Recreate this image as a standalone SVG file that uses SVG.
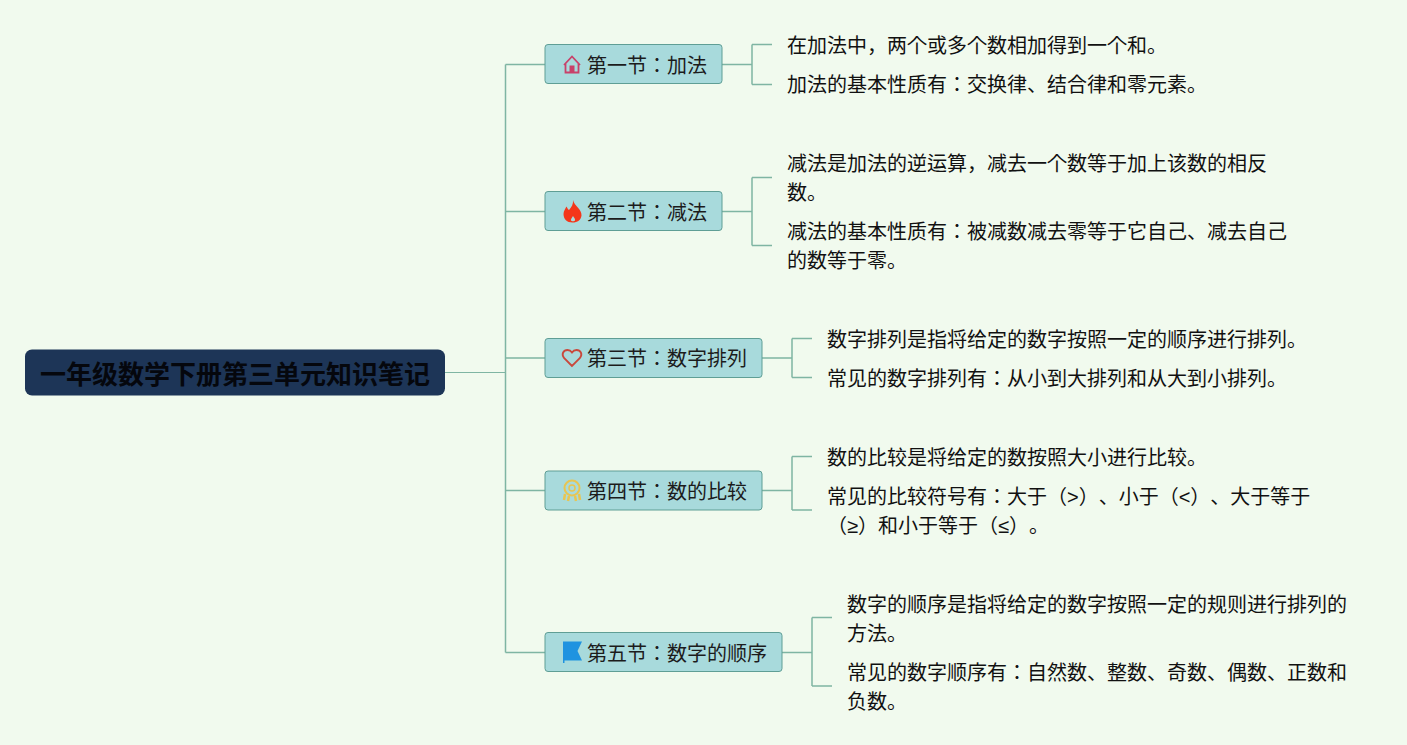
<svg xmlns="http://www.w3.org/2000/svg" width="1407" height="745" viewBox="0 0 1407 745">
<style>
text{font-family:"Liberation Sans","Noto Sans CJK JP","Noto Sans CJK SC",sans-serif;fill:#111;font-feature-settings:"chws" 0;text-spacing-trim:space-all}
.t{font-size:20px}
.n{font-size:20px;fill:#1c1c1c}
.root{font-size:26px;font-weight:700;fill:#05070d}
.box{fill:#a8dadc;stroke:#5f9e95;stroke-width:1}
.c{fill:none;stroke:#7fb5a3;stroke-width:1.5}
.l{fill:none;stroke:#7fb5a3;stroke-width:1}
</style>
<rect width="1407" height="745" fill="#f1faee"/>
<g id="connectors">
<path class="l" d="M445 372.500H505.500"/>
<path class="c" d="M505.500 64.500V652.500M505.500 64.500H545M505.500 211.500H545M505.500 358H545M505.500 490.500H545M505.500 652.500H545"/>
<path class="c" d="M722 64.500H752M752 44.500V84.500M752 44.500H772M752 84.500H772"/>
<path class="c" d="M722 211.500H752M752 177.500V245.500M752 177.500H772M752 245.500H772"/>
<path class="c" d="M762 358H792M792 338.500V377.500M792 338.500H812M792 377.500H812"/>
<path class="c" d="M762 490.500H792M792 456.500V510M792 456.500H812M792 510H812"/>
<path class="c" d="M782 652.500H812M812 617.500V686M812 617.500H832M812 686H832"/>
</g>
<g id="root"><rect x="25" y="349.500" width="420" height="46" rx="7" fill="#1d3557"/><text class="root" x="40" y="384">一年级数学下册第三单元知识笔记</text></g>
<g id="n1"><rect class="box" x="545" y="44.500" width="177" height="39" rx="3"/>
<path d="M564 65L572 56.500L580 65M565.500 63.500V72.500H578.500V63.500" fill="none" stroke="#c8416a" stroke-width="1.800"/><rect x="569.500" y="65.500" width="5" height="7" fill="#c8416a"/>
<text class="n" x="587" y="73">第一节：加法</text></g>
<g id="n2"><rect class="box" x="545" y="191.500" width="177" height="39" rx="3"/>
<path d="M573 200C574 206 582 209 581.500 215.500C581 220 577.500 222.500 572.500 222.500C567 222.500 563.500 219 563.500 214C563.500 211 565.500 208.500 566.500 206.500C567.500 208.500 568 209.500 569 210C571.500 207 573.500 204 573 200ZM573 216C572 218 570.500 219 571 220.500C571.500 221.500 574.500 221.500 575 220.500C575.500 219 574 217.500 573 216Z" fill="#f4361a" fill-rule="evenodd"/>
<text class="n" x="587" y="220">第二节：减法</text></g>
<g id="n3"><rect class="box" x="545" y="338.500" width="217" height="39" rx="3"/>
<path d="M572 366L564 358C561 354 563.500 350 567.500 350C569.500 350 571 351 572 352.500C573 351 574.500 350 576.500 350C580.500 350 583 354 580 358Z" fill="none" stroke="#c9483c" stroke-width="1.800"/>
<text class="n" x="587" y="366">第三节：数字排列</text></g>
<g id="n4"><rect class="box" x="545" y="471" width="217" height="39" rx="3"/>
<circle cx="572" cy="488" r="7.500" fill="none" stroke="#e8c552" stroke-width="2"/><circle cx="572" cy="488" r="3" fill="none" stroke="#e8c552" stroke-width="1.500"/>
<path d="M565 494L564 500M569 496L568 501M575 496L576 501M579 494L580 500" fill="none" stroke="#e8c552" stroke-width="2.500"/>
<text class="n" x="587" y="499">第四节：数的比较</text></g>
<g id="n5"><rect class="box" x="545" y="632.500" width="237" height="39" rx="3"/>
<path d="M563 641.500H582L577.500 651L582 660.500H564.500V663H563Z" fill="#1f93e0"/>
<text class="n" x="587" y="661">第五节：数字的顺序</text></g>
<g id="leaf11"><text class="t" x="787" y="53">在加法中，两个或多个数相加得到一个和。</text></g>
<g id="leaf12"><text class="t" x="787" y="92">加法的基本性质有：交换律、结合律和零元素。</text></g>
<g id="leaf21"><text class="t" x="787" y="171">减法是加法的逆运算，减去一个数等于加上该数的相反</text><text class="t" x="787" y="200">数。</text></g>
<g id="leaf22"><text class="t" x="787" y="239">减法的基本性质有：被减数减去零等于它自己、减去自己</text><text class="t" x="787" y="268">的数等于零。</text></g>
<g id="leaf31"><text class="t" x="827" y="347">数字排列是指将给定的数字按照一定的顺序进行排列。</text></g>
<g id="leaf32"><text class="t" x="827" y="386">常见的数字排列有：从小到大排列和从大到小排列。</text></g>
<g id="leaf41"><text class="t" x="827" y="465">数的比较是将给定的数按照大小进行比较。</text></g>
<g id="leaf42"><text class="t" x="827" y="504">常见的比较符号有：大于（&gt;）、小于（&lt;）、大于等于</text><text class="t" x="827" y="533">（≥）和小于等于（≤）。</text></g>
<g id="leaf51"><text class="t" x="847" y="612">数字的顺序是指将给定的数字按照一定的规则进行排列的</text><text class="t" x="847" y="641">方法。</text></g>
<g id="leaf52"><text class="t" x="847" y="680">常见的数字顺序有：自然数、整数、奇数、偶数、正数和</text><text class="t" x="847" y="709">负数。</text></g>
</svg>
